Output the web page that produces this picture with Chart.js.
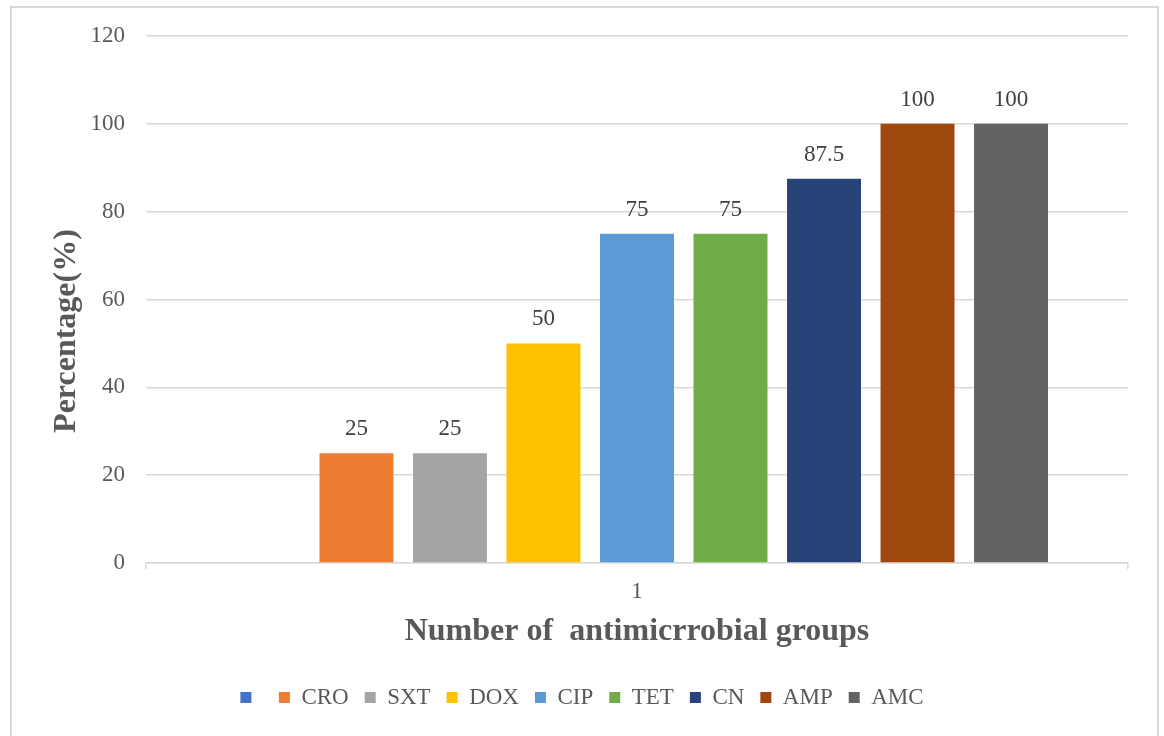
<!DOCTYPE html>
<html>
<head>
<meta charset="utf-8">
<script src="https://cdn.jsdelivr.net/npm/chart.js@4.4.0/dist/chart.umd.min.js"></script>
<style>
  html, body { margin: 0; padding: 0; background: #ffffff; }
  #wrap { width: 1164px; height: 736px; position: relative; }
</style>
</head>
<body>
<div id="wrap"><canvas id="c" width="1164" height="736"></canvas></div>
<script>
// Resistance percentage per antimicrobial (single group "1")
const categories = ['1'];
const seriesNames = ['', 'CRO', 'SXT', 'DOX', 'CIP', 'TET', 'CN', 'AMP', 'AMC'];
const seriesValues = [null, 25, 25, 50, 75, 75, 87.5, 100, 100];
const seriesColors = ['#4472C4', '#ED7D31', '#A5A5A5', '#FFC000', '#5B9BD5', '#70AD47', '#264478', '#9E480E', '#636363'];
const yTickValues = [0, 20, 40, 60, 80, 100, 120];
const xTitle = 'Number of  antimicrrobial groups';
const yTitle = 'Percentage(%)';

const FONT = "'Liberation Serif', 'Times New Roman', serif";
const TEXT = '#595959';
const GRID = '#d9d9d9';

const datasets = seriesNames.map((name, i) => ({
  label: name,
  data: [seriesValues[i]],
  backgroundColor: seriesColors[i],
  borderWidth: 0,
  categoryPercentage: 0.857,
  barPercentage: 0.791
}));

// light frame around the whole chart
const framePlugin = {
  id: 'frame',
  beforeDraw(chart) {
    const ctx = chart.ctx;
    ctx.save();
    ctx.fillStyle = '#ffffff';
    ctx.fillRect(0, 0, chart.width, chart.height);
    ctx.strokeStyle = GRID;
    ctx.lineWidth = 2;
    ctx.strokeRect(11, 7, 1147, 760);
    ctx.restore();
  }
};

// value above each bar
const valueLabels = {
  id: 'valueLabels',
  afterDatasetsDraw(chart) {
    const ctx = chart.ctx;
    ctx.save();
    ctx.font = "23px " + FONT;
    ctx.fillStyle = '#404040';
    ctx.textAlign = 'center';
    ctx.textBaseline = 'middle';
    chart.data.datasets.forEach((ds, di) => {
      const meta = chart.getDatasetMeta(di);
      meta.data.forEach((bar, j) => {
        const v = ds.data[j];
        if (v === null || v === undefined) return;
        ctx.fillText(String(v), bar.x, bar.y - 24);
      });
    });
    ctx.restore();
  }
};

// axis titles
const axisTitles = {
  id: 'axisTitles',
  afterDraw(chart) {
    const ctx = chart.ctx;
    const area = chart.chartArea;
    ctx.save();
    ctx.fillStyle = TEXT;
    ctx.font = "bold 32px " + FONT;
    ctx.textAlign = 'center';
    ctx.textBaseline = 'middle';
    ctx.fillText(xTitle, (area.left + area.right) / 2, 632);
    ctx.translate(67, 331);
    ctx.rotate(-Math.PI / 2);
    ctx.fillText(yTitle, 0, 0);
    ctx.restore();
  }
};

new Chart(document.getElementById('c'), {
  type: 'bar',
  data: { labels: categories, datasets },
  options: {
    responsive: false,
    animation: false,
    layout: { padding: { top: 36, left: 0, right: 0, bottom: 17 } },
    scales: {
      x: {
        offset: true,
        grid: {
          display: true,
          drawOnChartArea: false,
          drawTicks: true,
          tickLength: 6,
          color: GRID,
          lineWidth: 1.5,
          offset: true
        },
        border: { display: true, color: GRID, width: 1.5 },
        ticks: { color: TEXT, font: { family: FONT, size: 23 }, padding: 9 },
        afterFit(scale) {
          scale.height = 107;
          scale.paddingLeft = 0;
          scale.paddingRight = 36;
        }
      },
      y: {
        min: 0,
        max: 120,
        afterBuildTicks(scale) {
          scale.ticks = yTickValues.map(v => ({ value: v }));
        },
        grid: { color: GRID, lineWidth: 1.5, drawTicks: false },
        border: { display: false },
        ticks: { color: TEXT, font: { family: FONT, size: 23 }, padding: 21 },
        afterFit(scale) {
          scale.width = 146;
          scale.paddingTop = 0;
          scale.paddingBottom = 0;
        }
      }
    },
    plugins: {
      legend: {
        position: 'bottom',
        labels: {
          color: TEXT,
          font: { family: FONT, size: 23 },
          boxWidth: 11,
          boxHeight: 11,
          padding: 16
        }
      },
      tooltip: { enabled: false }
    }
  },
  plugins: [framePlugin, valueLabels, axisTitles]
});
</script>
</body>
</html>
